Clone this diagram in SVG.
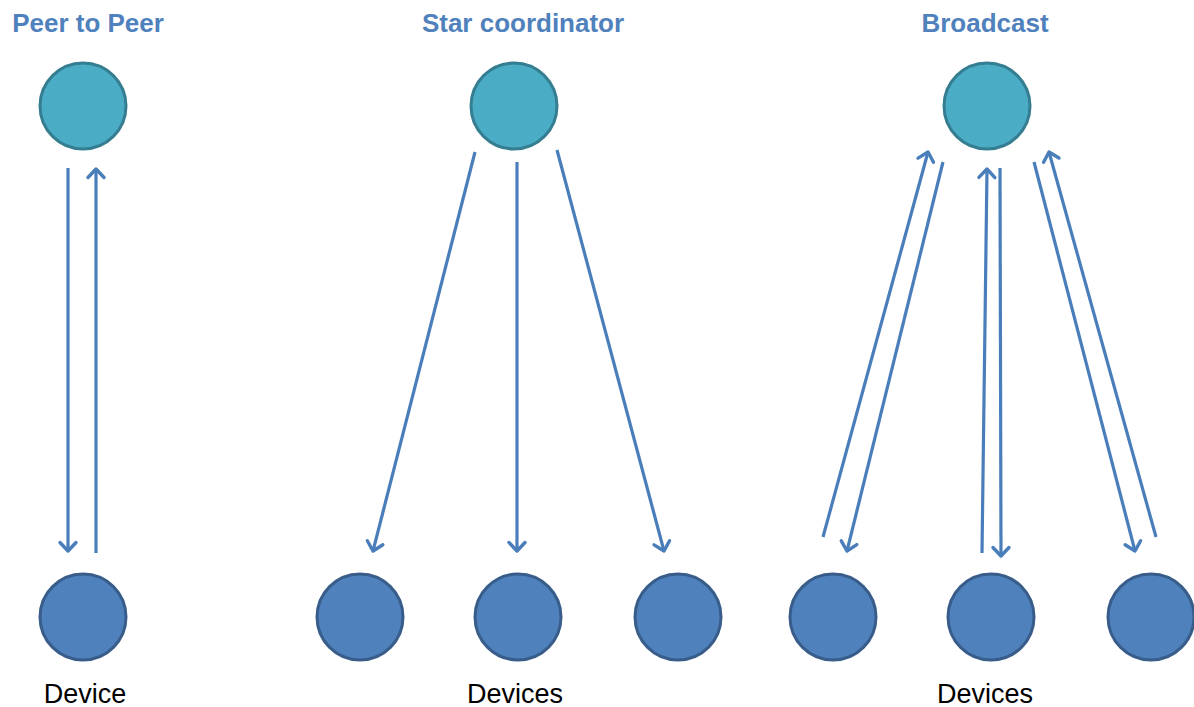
<svg xmlns="http://www.w3.org/2000/svg" width="1194" height="707" viewBox="0 0 1194 707">
<style>
.top{fill:#4bacc6;stroke:#357d91;stroke-width:3}
.dev{fill:#4f81bd;stroke:#385d8a;stroke-width:3}
.title{font-family:"Liberation Sans",Arial,sans-serif;font-weight:bold;font-size:26px;fill:#4f81bd;text-anchor:middle}
.lbl{font-family:"Liberation Sans",Arial,sans-serif;font-size:27px;fill:#000;text-anchor:middle}
.c{stroke:#4a7ebb;stroke-width:3.2;fill:none;marker-end:url(#ah)}
</style>
<defs>
<marker id="ah" markerUnits="userSpaceOnUse" markerWidth="24" markerHeight="24" refX="12" refY="12" orient="auto" viewBox="0 0 24 24">
<path d="M3.5,4 L12,12 L3.5,20" fill="none" stroke="#4a7ebb" stroke-width="3.4" stroke-linecap="round" stroke-linejoin="round"/>
</marker>
</defs>
<g id="titles">
<text class="title" x="88" y="32">Peer to Peer</text>
<text class="title" x="523" y="32">Star coordinator</text>
<text class="title" x="985" y="32">Broadcast</text>
</g>
<g id="peer-top"><circle class="top" cx="83" cy="106" r="43"/></g>
<g id="star-top"><circle class="top" cx="514" cy="106" r="43"/></g>
<g id="broadcast-top"><circle class="top" cx="987" cy="106" r="43"/></g>
<g id="peer-device"><circle class="dev" cx="83" cy="617" r="43"/><text class="lbl" x="85" y="703">Device</text></g>
<g id="star-device-1"><circle class="dev" cx="360" cy="617" r="43"/></g>
<g id="star-device-2"><circle class="dev" cx="518" cy="617" r="43"/><text class="lbl" x="515" y="703">Devices</text></g>
<g id="star-device-3"><circle class="dev" cx="678" cy="617" r="43"/></g>
<g id="bc-device-1"><circle class="dev" cx="833" cy="617" r="43"/></g>
<g id="bc-device-2"><circle class="dev" cx="991" cy="617" r="43"/><text class="lbl" x="985" y="703">Devices</text></g>
<g id="bc-device-3"><circle class="dev" cx="1151" cy="617" r="43"/></g>
<g id="connectors">
<line class="c" x1="68" y1="168" x2="68" y2="551"/>
<line class="c" x1="96" y1="553" x2="96" y2="169"/>
<line class="c" x1="475" y1="152" x2="373" y2="551"/>
<line class="c" x1="517" y1="162" x2="517" y2="551"/>
<line class="c" x1="557" y1="150" x2="664" y2="551"/>
<line class="c" x1="823" y1="537" x2="928" y2="152"/>
<line class="c" x1="943" y1="162" x2="847" y2="551"/>
<line class="c" x1="982" y1="553" x2="987" y2="169"/>
<line class="c" x1="1000" y1="168" x2="1001" y2="556"/>
<line class="c" x1="1034" y1="162" x2="1135" y2="551"/>
<line class="c" x1="1156" y1="537" x2="1049" y2="152"/>
</g>
</svg>
